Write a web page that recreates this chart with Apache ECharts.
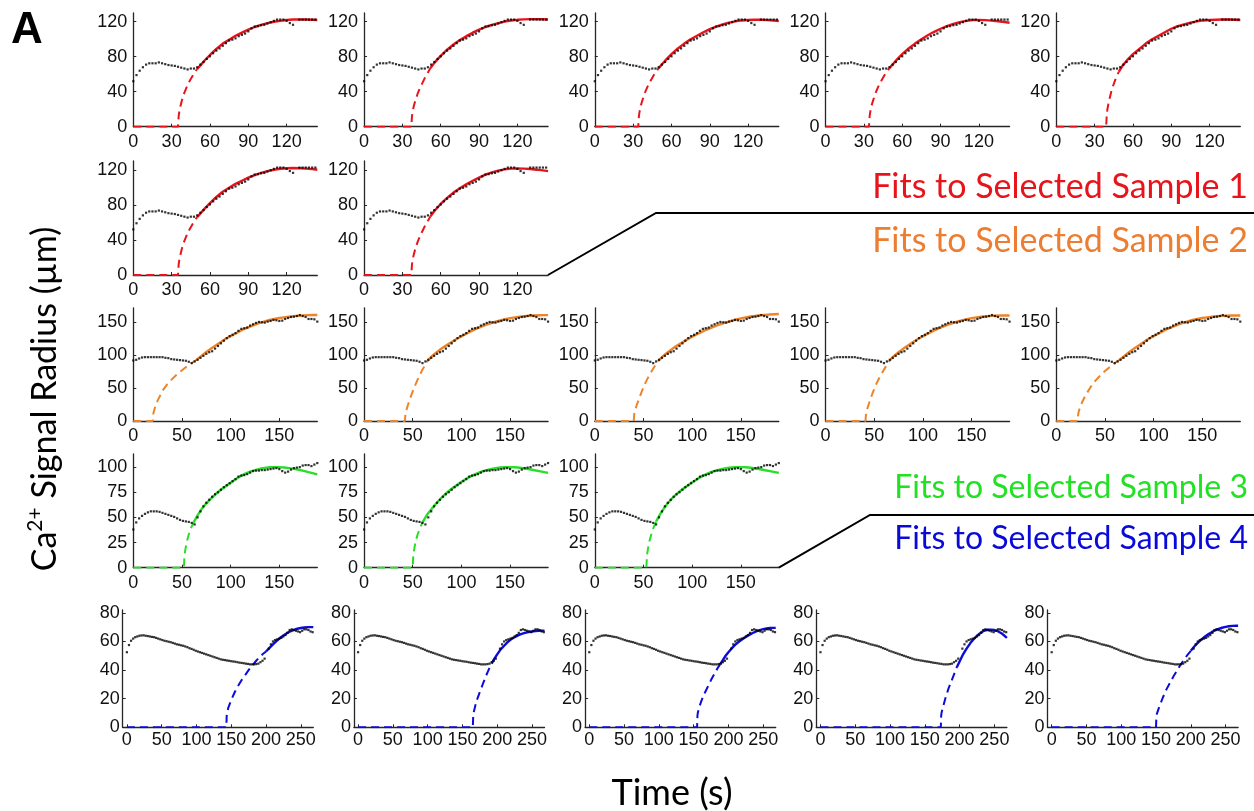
<!DOCTYPE html>
<html>
<head>
<meta charset="utf-8">
<script src="https://cdn.jsdelivr.net/npm/echarts@6.0.0/dist/echarts.min.js"></script>
<style>
  html, body { margin: 0; padding: 0; background: #ffffff; }
  #chart { width: 1254px; height: 811px; }
</style>
</head>
<body>
<div id="chart"></div>
<script>
// ---------- Measured signal radius (µm) for each sample ----------
const sample1Time = [0,2.5,5,7.5,10,12.5,15,17.5,20,22.5,25,27.5,30,32.5,35,37.5,40,42.5,45,47.5,50,52.5,55,57.5,60,62.5,65,67.5,70,72.5,75,77.5,80,82.5,85,87.5,90,92.5,95,97.5,100,102.5,105,107.5,110,112.5,115,117.5,120,122.5,125,130,132.5,135,137.5,140,142.5];
const sample1Radius = [52,59,64,68,71,72.5,72.5,72.5,73.5,72.5,71.5,70.5,70,69.5,68.5,67.5,66.5,65.5,66.5,66.5,68,71,74,77.5,80.5,84,87,89.5,92.5,95.5,98.5,99.5,101,103.5,105,106.5,109,112.5,114.5,115,116,116.5,118,119.5,121,122.5,122.5,122.5,121,118.5,116.5,122.5,122.5,122.5,122.5,122.5,122.5];

const sample2Time = [0,3,6,9,12,15,18,21,24,27,30,33,36,39,42,45,48,51,54,57,60,63,66,69,72,75,78,81,84,87,90,93,96,99,102,105,108,111,114,117,120,123,126,129,132,135,138,141,144,147,150,153,156,159,162,165,168,171,174,177,180,183,186,189];
const sample2Radius = [92,93,95,96.5,97,97,97,97,97,97,97,96,95.5,94,93.5,93,92.5,92,91.5,90,88,90.5,93,96,99,102,104.5,106,110,114,118,122,126,129,131,133.5,137,140,141,142,145,147,149,150.5,150,149.5,151,152,153.5,153,152,152.5,155,156.5,158,158.5,159.5,161,159.5,158,155,155,154.5,151];

const sample3Time = [0,3,6,9,12,15,18,21,24,27,30,33,36,39,42,45,48,51,54,57,60,63,66,69,72,75,78,81,84,87,90,93,96,99,102,105,108,111,114,117,120,123,126,129,132,135,138,141,144,147,150,153,156,159,162,165,168,171,174,177,180,183,186,189];
const sample3Radius = [38,45,49,51.5,53.5,55,56,56,56,55.5,54.5,53.5,52.5,51.5,50.5,49,47.5,46.5,46,45.5,44.5,43,50,56,61,64.5,67.5,70.5,73,75,77.5,80,82,84,86,88,90.5,91.5,92,93,94.5,96,96.5,96.5,97,97,97.5,98,98.5,99,98,96,94.5,95.5,97.5,99,99.5,100,101.5,102,102,101,102.5,104];

const sample4Time = [0,3,6,9,12,15,18,21,24,27,30,33,36,39,42,45,48,51,54,57,60,63,66,69,72,75,78,81,84,87,90,93,96,99,102,105,108,111,114,117,120,123,126,129,132,135,138,141,144,147,150,153,156,159,162,165,168,171,174,177,180,183,186,189,192,195,198,204,207,210,213,216,219,222,225,228,231,234,237,240,243,246,249,252,255,258,261,264,267];
const sample4Radius = [52.5,57.5,60.5,62,63,63.5,64,64.2,64.3,64,63.8,63.5,63.2,63,62.5,62,61.5,61,60.5,60.2,59.8,59.5,59,58.5,58,57.7,57.3,57,56.5,56,55.3,54.8,54.2,53.5,53,52.5,52,51.5,51,50.5,50,49.5,49,48.5,48,47.5,47.2,47,46.7,46.5,46.2,46,45.8,45.5,45.2,45,44.8,44.5,44.3,44,44,44,44.2,44.5,45.5,46.5,48,55,58,60,61,61.5,62,62.5,63.5,64.5,66,68,68.5,68,67.5,67,66.5,67.5,68.5,68.5,68,67,66.5];

// ---------- Fitted growth curves: dashed extrapolation + solid fitted range ----------
// Sample 1 fits (rows 1 and 2)
const fitR1C1Dash  = [[35,0],[35.5,12],[36,17],[37,24],[38,30],[40,39],[42,46],[44,52],[46,57],[48,62],[50,66]];
const fitR1C1Solid = [[50,66],[53,71],[56,76],[60,82],[65,89],[70,95],[75,99.5],[80,104],[85,107.5],[90,111],[95,114],[100,116.5],[105,118.5],[110,120],[115,121],[120,122],[125,122.5],[130,122.5],[135,122.5],[140,122.3],[144,122]];
const fitR1C2Dash  = [[37,0],[37.5,12],[38,17],[39,24],[40,29],[42,38],[44,45],[46,51],[48,57],[50,62],[52,67]];
const fitR1C2Solid = [[52,67],[55,73],[60,81],[65,88],[70,94],[75,99],[80,103.5],[85,107.5],[90,111],[95,114],[100,116.5],[105,118.5],[110,120.2],[115,121.4],[120,122.2],[125,122.7],[130,123],[135,123],[140,122.8],[144,122.6]];
const fitR1C3Dash  = [[34,0],[34.5,12],[35,17],[36,24],[37,29],[39,38],[41,45],[43,51],[45,56],[47,61],[49,65],[50,67]];
const fitR1C3Solid = [[50,67],[53,72],[56,77],[60,83],[65,89.5],[70,95],[75,100],[80,104],[85,108],[90,111.5],[95,114.5],[100,117],[105,119],[110,120.5],[115,121.5],[120,122],[125,122.2],[130,122.2],[135,121.9],[140,121.4],[144,120.8]];
const fitR1C4Dash  = [[34,0],[34.5,12],[35,17],[36,24],[37,29],[39,38],[41,45],[43,51],[45,56],[47,61],[49,65],[50,67]];
const fitR1C4Solid = [[50,67],[53,72],[56,77],[60,83],[65,89.5],[70,95],[75,100],[80,104.5],[85,108.5],[90,112],[95,115],[100,117.5],[105,119.5],[110,121],[115,121.8],[120,122],[125,121.8],[130,121.3],[135,120.6],[140,119.7],[144,118.9]];
const fitR1C5Dash  = [[39,0],[39.5,14],[40,20],[41,28],[42,34],[43,40],[44,45],[46,53],[48,60],[49,63]];
const fitR1C5Solid = [[49,63],[52,70],[56,77],[60,83],[65,89],[70,95],[75,100],[80,104],[85,108],[90,112],[95,115],[100,117],[105,119],[110,120.5],[115,121.5],[120,122],[125,122.3],[130,122.5],[135,122.5],[140,122.3],[144,122]];
const fitR2C1Dash  = [[35,0],[35.5,12],[36,17],[37,24],[38,30],[40,39],[42,46],[44,52],[46,57],[48,62],[50,66]];
const fitR2C1Solid = [[50,66],[53,71],[56,76],[60,82],[65,89],[70,95],[75,99.5],[80,104],[85,107.5],[90,111],[95,114],[100,116.5],[105,118.5],[110,120],[115,121.2],[120,121.8],[125,122],[130,121.8],[135,121.3],[140,120.7],[144,120]];
const fitR2C2Dash  = [[37,0],[37.5,12],[38,17],[39,24],[40,29],[42,38],[44,45],[46,51],[48,57],[50,62],[52,67]];
const fitR2C2Solid = [[52,67],[55,73],[60,81],[65,88],[70,94],[75,99],[80,103.5],[85,107.5],[90,111],[95,114.5],[100,117],[105,119],[110,120.5],[115,121.3],[120,121.5],[125,121.3],[130,120.8],[135,120.1],[140,119.3],[144,118.5]];

// Sample 2 fits (row 3)
const fitR3C1Dash  = [[20,0],[20.5,10],[21,14],[22,19],[23,24],[25,31],[28,40],[30,46],[35,56],[40,64],[45,71],[50,77],[55,83],[60,88],[65,93]];
const fitR3C1Solid = [[65,93],[70,99],[75,105],[80,110],[85,115],[90,120],[95,125],[100,129],[105,133],[110,137],[115,140.5],[120,143.5],[125,146.5],[130,149],[135,151.5],[140,153.5],[145,155],[150,156.5],[155,157.5],[160,158.5],[165,159.3],[170,160],[175,160.5],[180,160.8],[185,161],[189,161]];
const fitR3C2Dash  = [[42,0],[42.5,10],[43,14],[44,19],[45,24],[47,33],[50,45],[53,56],[56,66],[60,78],[65,91]];
const fitR3C2Solid = [[65,91],[70,99],[75,105],[80,110.5],[85,115.5],[90,120],[95,124.5],[100,128.5],[105,132.5],[110,136.5],[115,140],[120,143],[125,146],[130,148.5],[135,151],[140,153],[145,154.8],[150,156.3],[155,157.5],[160,158.5],[165,159.3],[170,159.9],[175,160.3],[180,160.6],[185,160.8],[189,160.8]];
const fitR3C3Dash  = [[40,0],[40.5,10],[41,14],[42,19],[43,24],[45,32],[48,44],[51,55],[54,64],[57,72],[61,82],[65,91]];
const fitR3C3Solid = [[65,91],[70,98.5],[75,104.5],[80,110],[85,115],[90,119.5],[95,124],[100,128],[105,132],[110,135.5],[115,139],[120,142],[125,145],[130,147.5],[135,150],[140,152.2],[145,154.2],[150,156],[155,157.5],[160,158.8],[165,159.8],[170,160.6],[175,161.3],[180,161.8],[185,162.2],[189,162.5]];
const fitR3C4Dash  = [[41,0],[41.5,10],[42,14],[43,19],[44,24],[46,33],[49,45],[52,56],[55,65],[58,73],[62,83],[66,92]];
const fitR3C4Solid = [[66,92],[70,98.5],[75,104.5],[80,110],[85,115],[90,120],[95,124.5],[100,128.5],[105,132.5],[110,136.5],[115,140],[120,143],[125,146],[130,148.5],[135,151],[140,153],[145,154.8],[150,156.3],[155,157.5],[160,158.5],[165,159.2],[170,159.7],[175,160],[180,160.2],[185,160.2],[189,160.2]];
const fitR3C5Dash  = [[22,0],[22.5,10],[23,14],[24,19],[25,23],[27,30],[30,39],[35,51],[40,61],[45,69],[50,76],[55,82],[60,88],[65,93]];
const fitR3C5Solid = [[65,93],[70,99],[75,105],[80,110],[85,115],[90,120],[95,125],[100,129],[105,133],[110,137],[115,140.5],[120,143.5],[125,146.5],[130,149],[135,151.5],[140,153.5],[145,155],[150,156.5],[155,157.5],[160,158.5],[165,159.2],[170,159.7],[175,160],[180,160.2],[185,160.2],[189,160.2]];

// Sample 3 fits (row 4)
const fitR4C1Dash  = [[52,0],[52.5,11],[53,15],[54,21],[55,26],[57,33],[59,39],[62,45]];
const fitR4C1Solid = [[62,45],[66,52],[70,58],[75,64],[80,69],[85,73.5],[90,77.5],[95,81],[100,84.5],[105,88],[110,91],[115,93.5],[120,95.5],[125,97],[130,98.3],[135,99.2],[140,99.8],[145,100],[150,100],[155,99.6],[160,99],[165,98.2],[170,97.3],[175,96.3],[180,95],[185,93.8],[189,92.8]];
const fitR4C2Dash  = [[50,0],[50.5,11],[51,15],[52,21],[53,26],[55,33],[57,38],[60,45]];
const fitR4C2Solid = [[60,45],[65,53],[70,59],[75,65],[80,70],[85,74.5],[90,78.5],[95,82],[100,85.5],[105,88.5],[110,91],[115,93.3],[120,95.2],[125,96.8],[130,98],[135,99],[140,99.6],[145,100],[150,100],[155,99.8],[160,99.3],[165,98.6],[170,97.8],[175,96.9],[180,96],[185,95],[189,94.2]];
const fitR4C3Dash  = [[53,0],[53.5,11],[54,15],[55,21],[56,26],[58,33],[60,39],[63,46]];
const fitR4C3Solid = [[63,46],[67,53],[71,59],[75,64],[80,69.5],[85,74],[90,78],[95,81.5],[100,85],[105,88],[110,90.8],[115,93.2],[120,95.2],[125,96.8],[130,98],[135,99],[140,99.6],[145,100],[150,100],[155,99.8],[160,99.3],[165,98.6],[170,97.8],[175,96.9],[180,96],[185,95],[189,94.2]];

// Sample 4 fits (row 5)
const fitR5C1Dash  = [[143,0],[143.5,8],[144,10],[146,14],[150,19],[155,24.5],[160,29],[165,33],[170,36.5],[175,40],[180,43],[185,46],[190,48.7],[195,51],[200,53]];
const fitR5C1Solid = [[200,53],[205,55.5],[210,58],[215,60.3],[220,62.4],[225,64.2],[230,65.8],[235,67.1],[240,68.1],[245,68.9],[250,69.4],[255,69.8],[260,70],[265,70],[268,70]];
const fitR5C2Dash  = [[165,0],[165.5,8],[166,10],[168,14],[170,18],[173,22],[176,26],[180,31],[184,36],[188,40.5],[192,44.5]];
const fitR5C2Solid = [[192,44.5],[196,48],[200,51],[205,54.5],[210,57],[215,59.5],[220,61.5],[225,63],[230,64.3],[235,65.3],[240,66],[245,66.6],[250,67],[255,67.3],[260,67.5],[265,67.6],[268,67.6]];
const fitR5C3Dash  = [[155,0],[155.5,8],[156,10],[158,14],[162,19.5],[166,24],[170,28],[175,33],[180,37.5],[184,41],[188,44]];
const fitR5C3Solid = [[188,44],[192,47],[196,50],[200,52.5],[205,55.3],[210,57.8],[215,59.8],[220,61.6],[225,63.2],[230,64.6],[235,65.9],[240,67],[245,67.9],[250,68.6],[255,69.1],[260,69.4],[265,69.5],[268,69.5]];
const fitR5C4Dash  = [[173,0],[173.5,8],[174,10],[176,14],[180,21],[184,27],[188,32],[192,37],[196,42]];
const fitR5C4Solid = [[196,42],[200,46],[205,51],[210,55],[215,58.5],[220,61.5],[225,64],[230,66],[235,67.5],[240,68.2],[245,68.3],[250,68],[255,67.2],[260,65.8],[265,63.8],[268,62.5]];
const fitR5C5Dash  = [[150,0],[150.5,7],[151,9],[153,12],[156,16],[160,21],[165,26.5],[170,31],[175,35.5],[180,39.5],[185,43.5],[190,47],[195,50.5],[200,53.5]];
const fitR5C5Solid = [[200,53.5],[205,56.5],[210,59],[215,61.3],[220,63.3],[225,65],[230,66.5],[235,67.8],[240,68.8],[245,69.6],[250,70.2],[255,70.6],[260,70.9],[265,71],[268,71]];

// ---------- Axis ranges and tick labels per row ----------
const row12XRange = [0, 144],  row12XTicks = [0, 30, 60, 90, 120];
const row12YRange = [0, 130],  row12YTicks = [0, 40, 80, 120];
const row3XRange  = [0, 189],  row3XTicks  = [0, 50, 100, 150];
const row3YRange  = [0, 172],  row3YTicks  = [0, 50, 100, 150];
const row4XRange  = [0, 189],  row4XTicks  = [0, 50, 100, 150];
const row4YRange  = [0, 113],  row4YTicks  = [0, 25, 50, 75, 100];
const row5XRange  = [-6, 268], row5XTicks  = [0, 50, 100, 150, 200, 250];
const row5YRange  = [0, 82],   row5YTicks  = [0, 20, 40, 60, 80];

// ---------- Texts ----------
const legendLabels = ['Fits to Selected Sample 1', 'Fits to Selected Sample 2', 'Fits to Selected Sample 3', 'Fits to Selected Sample 4'];
const xTitle = 'Time (s)';
const panelLetter = 'A';

// ---------- Styling ----------
const COLORS = ['#e8141c', '#ee8328', '#27df27', '#0b0bdc'];
const LEGEND_COLORS = ['#e8141c', '#ed7d31', '#22e022', '#0a0ad8'];
const AXIS_COLOR = '#262626';
const DOT_COLOR = '#000000';

const pairs = (t, r) => t.map((v, i) => [v, r[i]]);
const samples = [
  pairs(sample1Time, sample1Radius),
  pairs(sample2Time, sample2Radius),
  pairs(sample3Time, sample3Radius),
  pairs(sample4Time, sample4Radius)
];

// row layout (pixels)
const rowLayout = [
  { top: 13,    bottom: 126.7, left0: 133.3, step: 230.75, width: 184,   xr: row12XRange, xt: row12XTicks, yr: row12YRange, yt: row12YTicks, sample: 0, yMargin: 6, xMargin: 6 },
  { top: 161,   bottom: 275,   left0: 133.3, step: 230.75, width: 184,   xr: row12XRange, xt: row12XTicks, yr: row12YRange, yt: row12YTicks, sample: 0, yMargin: 6, xMargin: 6 },
  { top: 307.8, bottom: 421,   left0: 133.3, step: 230.75, width: 184,   xr: row3XRange,  xt: row3XTicks,  yr: row3YRange,  yt: row3YTicks,  sample: 1, yMargin: 6, xMargin: 6 },
  { top: 454,   bottom: 567.7, left0: 133.3, step: 230.75, width: 184,   xr: row4XRange,  xt: row4XTicks,  yr: row4YRange,  yt: row4YTicks,  sample: 2, yMargin: 6, xMargin: 6 },
  { top: 610,   bottom: 727.3, left0: 122.7, step: 231.2,  width: 190.6, xr: row5XRange,  xt: row5XTicks,  yr: row5YRange,  yt: row5YTicks,  sample: 3, yMargin: 3, xMargin: 4 }
];

const panelFits = [
  [0, 0, fitR1C1Dash, fitR1C1Solid], [0, 1, fitR1C2Dash, fitR1C2Solid], [0, 2, fitR1C3Dash, fitR1C3Solid], [0, 3, fitR1C4Dash, fitR1C4Solid], [0, 4, fitR1C5Dash, fitR1C5Solid],
  [1, 0, fitR2C1Dash, fitR2C1Solid], [1, 1, fitR2C2Dash, fitR2C2Solid],
  [2, 0, fitR3C1Dash, fitR3C1Solid], [2, 1, fitR3C2Dash, fitR3C2Solid], [2, 2, fitR3C3Dash, fitR3C3Solid], [2, 3, fitR3C4Dash, fitR3C4Solid], [2, 4, fitR3C5Dash, fitR3C5Solid],
  [3, 0, fitR4C1Dash, fitR4C1Solid], [3, 1, fitR4C2Dash, fitR4C2Solid], [3, 2, fitR4C3Dash, fitR4C3Solid],
  [4, 0, fitR5C1Dash, fitR5C1Solid], [4, 1, fitR5C2Dash, fitR5C2Solid], [4, 2, fitR5C3Dash, fitR5C3Solid], [4, 3, fitR5C4Dash, fitR5C4Solid], [4, 4, fitR5C5Dash, fitR5C5Solid]
];
// colour of each row's fits
const rowColor = [0, 0, 1, 2, 3];

const tickFont = { fontFamily: '"Liberation Sans", Arial, sans-serif', fontSize: 18, color: '#111111' };

const grids = [], xAxes = [], yAxes = [], series = [];
panelFits.forEach(([r, c, dash, solid], i) => {
  const L = rowLayout[r];
  grids.push({ left: L.left0 + c * L.step, top: L.top, width: L.width, height: L.bottom - L.top });
  xAxes.push({
    type: 'value', gridIndex: i, min: L.xr[0], max: L.xr[1],
    axisLine: { show: true, onZero: false, lineStyle: { color: AXIS_COLOR, width: 1.3 } },
    axisTick: { show: true, inside: true, length: 3, customValues: L.xt, lineStyle: { color: AXIS_COLOR, width: 1 } },
    axisLabel: Object.assign({ customValues: L.xt, margin: L.xMargin }, tickFont),
    splitLine: { show: false }
  });
  yAxes.push({
    type: 'value', gridIndex: i, min: L.yr[0], max: L.yr[1],
    axisLine: { show: true, onZero: false, lineStyle: { color: AXIS_COLOR, width: 1.3 } },
    axisTick: { show: true, inside: true, length: 3, customValues: L.yt, lineStyle: { color: AXIS_COLOR, width: 1 } },
    axisLabel: Object.assign({ customValues: L.yt, margin: L.yMargin }, tickFont),
    splitLine: { show: false }
  });
  const color = COLORS[rowColor[r]];
  // baseline before onset, then the extrapolated rise (dashed)
  series.push({
    type: 'line', xAxisIndex: i, yAxisIndex: i, data: [[0, 0]].concat(dash),
    symbol: 'none', smooth: false, z: 2,
    lineStyle: { color: color, width: 2, type: [8, 5] }
  });
  // fitted range (solid)
  series.push({
    type: 'line', xAxisIndex: i, yAxisIndex: i, data: solid,
    symbol: 'none', smooth: false, z: 3,
    lineStyle: { color: color, width: 2.4 }
  });
  // measured points
  series.push({
    type: 'scatter', xAxisIndex: i, yAxisIndex: i, data: samples[L.sample],
    symbol: 'rect', symbolSize: 2.2, z: 4,
    itemStyle: { color: DOT_COLOR }
  });
});

const labelFont = 'Lato, "Open Sans", sans-serif';
const graphics = [
  { type: 'text', left: 11, top: 9, style: { text: panelLetter, font: 'bold 44px "Liberation Sans", Arial, sans-serif', fill: '#000' } },
  { type: 'text', x: 45, y: 399, rotation: Math.PI / 2,
    style: {
      text: '{n|Ca}{s|2+}{n| Signal Radius (µm)}',
      align: 'center', verticalAlign: 'middle',
      rich: {
        n: { fontFamily: labelFont, fontSize: 34, lineHeight: 40, fill: '#000' },
        s: { fontFamily: labelFont, fontSize: 21, lineHeight: 24, verticalAlign: 'top', fill: '#000' }
      }
    } },
  { type: 'text', x: 672, y: 793, style: { text: xTitle, font: '36px ' + labelFont, fill: '#000', align: 'center', verticalAlign: 'middle' } },
  { type: 'text', x: 1248, y: 187, style: { text: legendLabels[0], font: '34px ' + labelFont, fill: LEGEND_COLORS[0], align: 'right', verticalAlign: 'middle' } },
  { type: 'text', x: 1248, y: 241, style: { text: legendLabels[1], font: '34px ' + labelFont, fill: LEGEND_COLORS[1], align: 'right', verticalAlign: 'middle' } },
  { type: 'text', x: 1248, y: 488, style: { text: legendLabels[2], font: '32px ' + labelFont, fill: LEGEND_COLORS[2], align: 'right', verticalAlign: 'middle' } },
  { type: 'text', x: 1248, y: 539, style: { text: legendLabels[3], font: '32px ' + labelFont, fill: LEGEND_COLORS[3], align: 'right', verticalAlign: 'middle' } },
  { type: 'polyline', shape: { points: [[548, 275], [656, 213], [1254, 213]] }, style: { stroke: '#000', lineWidth: 2, fill: null } },
  { type: 'polyline', shape: { points: [[778.8, 567.7], [870, 515], [1254, 515]] }, style: { stroke: '#000', lineWidth: 2, fill: null } }
];

const chart = echarts.init(document.getElementById('chart'), null, { renderer: 'canvas' });
chart.setOption({
  animation: false,
  backgroundColor: '#ffffff',
  textStyle: { fontFamily: '"Liberation Sans", Arial, sans-serif' },
  grid: grids,
  xAxis: xAxes,
  yAxis: yAxes,
  series: series,
  graphic: graphics
});
</script>
</body>
</html>
